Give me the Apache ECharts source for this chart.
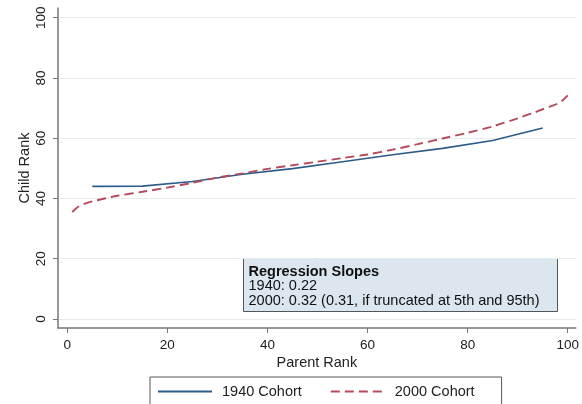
<!DOCTYPE html>
<html>
<head>
<meta charset="utf-8">
<script src="https://cdn.jsdelivr.net/npm/echarts@6/dist/echarts.min.js"></script>
<style>
html,body{margin:0;padding:0;background:#fff;}
#chart{width:582px;height:404px;}
</style>
</head>
<body>
<div id="chart"></div>
<script>
// ---- data ----
const parentRank1940 = [5, 15, 25, 35, 45, 55, 65, 75, 85, 95];
const childRank1940  = [44.0, 44.1, 45.6, 48.0, 49.9, 52.2, 54.5, 56.6, 59.2, 63.4];

const parentRank2000 = [1, 2, 3, 5, 8, 10, 15, 20, 25, 30, 35, 40, 45, 50, 55, 60, 65, 70, 75, 80, 85, 90, 93, 95, 97, 98, 99, 100];
const childRank2000  = [35.5, 37.0, 37.9, 39.0, 40.2, 40.9, 42.2, 43.6, 45.2, 46.9, 48.3, 49.8, 51.0, 52.2, 53.4, 54.6, 56.2, 58.0, 59.9, 61.8, 63.9, 66.6, 68.3, 69.6, 70.8, 71.5, 72.6, 74.2];

const xTicks = [0, 20, 40, 60, 80, 100];
const yTicks = [0, 20, 40, 60, 80, 100];

const seriesNames = ['1940 Cohort', '2000 Cohort'];
const annotationLines = ['Regression Slopes', '1940: 0.22', '2000: 0.32 (0.31, if truncated at 5th and 95th)'];

const pairs = (xs, ys) => xs.map((x, i) => [x, ys[i]]);

const FONT = '"Liberation Sans", Arial, Helvetica, sans-serif';
const chart = echarts.init(document.getElementById('chart'), null, {renderer: 'canvas'});

chart.setOption({
  animation: false,
  backgroundColor: '#ffffff',
  textStyle: {fontFamily: FONT},
  grid: {left: 58, right: 4, top: 8, bottom: 76, containLabel: false},
  xAxis: {
    type: 'value',
    min: -1.85, max: 101.6,
    name: 'Parent Rank',
    nameLocation: 'middle',
    nameGap: 27,
    nameMoveOverlap: false,
    nameTextStyle: {color: '#222', fontSize: 14.5, fontFamily: FONT},
    axisLine: {show: true, onZero: false, lineStyle: {color: '#777', width: 1.5}},
    axisTick: {show: true, length: 5, customValues: xTicks, lineStyle: {color: '#777', width: 1}},
    axisLabel: {customValues: xTicks, color: '#222', fontSize: 13.5, margin: 10, fontFamily: FONT},
    splitLine: {show: false}
  },
  yAxis: {
    type: 'value',
    min: -3, max: 103.2,
    name: 'Child Rank',
    nameLocation: 'middle',
    nameGap: 26,
    nameMoveOverlap: false,
    nameRotate: 90,
    nameTextStyle: {color: '#222', fontSize: 14.5, fontFamily: FONT},
    axisLine: {show: true, onZero: false, lineStyle: {color: '#777', width: 1.5}},
    axisTick: {show: true, length: 5, customValues: yTicks, lineStyle: {color: '#777', width: 1}},
    axisLabel: {customValues: yTicks, rotate: 90, color: '#222', fontSize: 13.5, margin: 10, fontFamily: FONT},
    splitLine: {show: true, lineStyle: {color: '#e4ecee', width: 1}}
  },
  legend: {
    left: 150, top: 377,
    itemWidth: 54, itemHeight: 14,
    itemGap: 28,
    padding: [7, 27, 10, 7],
    borderColor: '#555', borderWidth: 1,
    itemStyle: {opacity: 0},
    textStyle: {color: '#222', fontSize: 14.5, fontFamily: FONT, padding: [0, 0, 0, 5]},
    data: seriesNames
  },
  series: [
    {
      name: seriesNames[0],
      type: 'line',
      data: pairs(parentRank1940, childRank1940),
      symbol: 'none',
      lineStyle: {color: '#2d5b89', width: 1.6},
      itemStyle: {color: '#2d5b89'}
    },
    {
      name: seriesNames[1],
      type: 'line',
      data: pairs(parentRank2000, childRank2000),
      symbol: 'none',
      smooth: 0.3,
      lineStyle: {color: '#b44a5b', width: 1.9, type: [9, 5]},
      itemStyle: {color: '#b44a5b'}
    }
  ],
  graphic: [
    {
      type: 'group',
      left: 243, top: 258,
      children: [
        {type: 'rect', shape: {x: 0, y: 0, width: 314, height: 53},
         style: {fill: '#dbe6ee', stroke: '#555', lineWidth: 1}},
        {type: 'text', x: 5, y: 6,
         style: {text: annotationLines[0], fill: '#111', font: 'bold 14.5px ' + FONT}},
        {type: 'text', x: 5, y: 20,
         style: {text: annotationLines[1], fill: '#111', font: '14.5px ' + FONT}},
        {type: 'text', x: 5, y: 35,
         style: {text: annotationLines[2], fill: '#111', font: '14.5px ' + FONT}}
      ]
    }
  ]
});
</script>
</body>
</html>
